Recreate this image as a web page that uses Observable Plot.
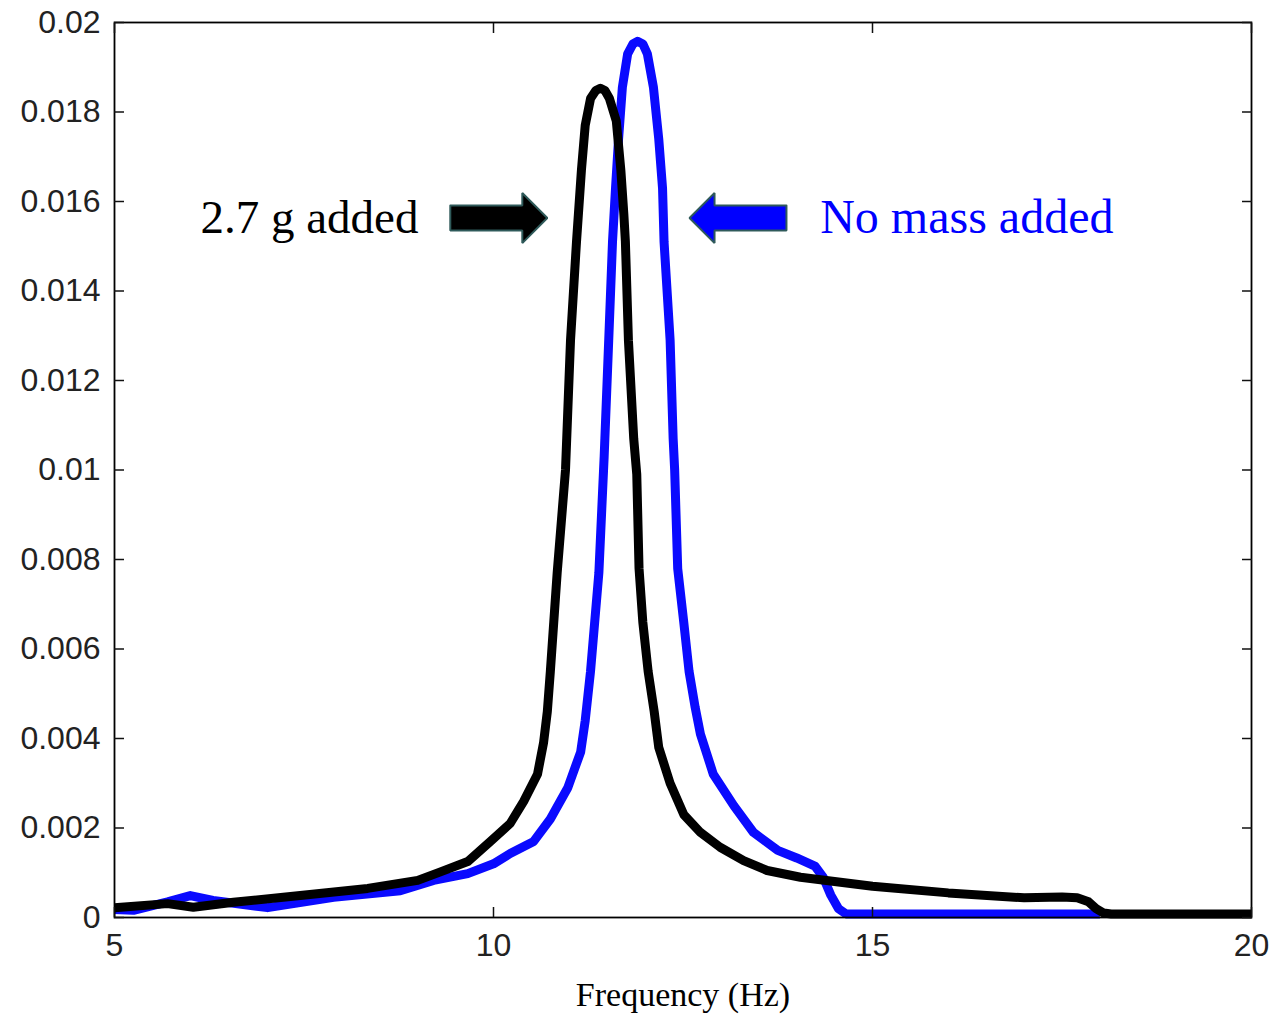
<!DOCTYPE html>
<html>
<head>
<meta charset="utf-8">
<script src="https://cdn.jsdelivr.net/npm/d3@7"></script>
<script src="https://cdn.jsdelivr.net/npm/@observablehq/plot@0.6"></script>
<style>
  html, body { margin: 0; padding: 0; background: #fff; }
  #chart svg { display: block; }
</style>
</head>
<body>
<div id="chart"></div>
<script>
// ---- Data ----
// "No mass added" (blue)
const freqNoMass = [5.0, 5.25, 5.7, 6.0, 6.3, 7.02, 7.89, 8.77, 9.21, 9.66, 10.0, 10.22, 10.53, 10.75, 10.98, 11.15, 11.21, 11.28, 11.39, 11.46, 11.52, 11.57, 11.61, 11.65, 11.70, 11.77, 11.84, 11.90, 11.97, 12.03, 12.11, 12.18, 12.23, 12.25, 12.33, 12.37, 12.39, 12.43, 12.51, 12.58, 12.66, 12.73, 12.90, 13.17, 13.43, 13.75, 14.0, 14.24, 14.35, 14.45, 14.55, 14.65, 18.0];
const ampNoMass  = [0.00018, 0.00016, 0.00035, 0.00049, 0.00038, 0.00022, 0.00045, 0.0006, 0.00083, 0.00098, 0.0012, 0.00143, 0.0017, 0.0022, 0.0029, 0.0037, 0.0044, 0.0055, 0.0077, 0.0103, 0.0129, 0.0151, 0.0163, 0.0174, 0.01855, 0.0193, 0.01952, 0.01958, 0.01952, 0.0193, 0.01855, 0.0174, 0.0163, 0.0151, 0.0129, 0.0107, 0.0100, 0.0078, 0.0066, 0.0055, 0.0047, 0.0041, 0.0032, 0.0025, 0.0019, 0.0015, 0.00133, 0.00115, 0.0009, 0.0005, 0.0002, 0.00008, 0.00008];

// "2.7 g added" (black)
const freqAdded = [5.0, 5.7, 6.04, 6.57, 7.45, 8.34, 9.0, 9.3, 9.66, 9.96, 10.22, 10.40, 10.58, 10.66, 10.71, 10.75, 10.84, 10.95, 11.016, 11.095, 11.16, 11.21, 11.28, 11.35, 11.41, 11.47, 11.53, 11.62, 11.68, 11.72, 11.74, 11.78, 11.85, 11.89, 11.92, 11.97, 12.04, 12.12, 12.18, 12.33, 12.51, 12.73, 12.99, 13.30, 13.61, 14.05, 14.71, 15.0, 16.0, 17.0, 17.5, 17.7, 17.85, 17.95, 18.05, 18.15, 20.0];
const ampAdded  = [0.00022, 0.00031, 0.00023, 0.00034, 0.00049, 0.00065, 0.00083, 0.00102, 0.00125, 0.0017, 0.0021, 0.0026, 0.0032, 0.0039, 0.0046, 0.0055, 0.0077, 0.0100, 0.0129, 0.0151, 0.0167, 0.0177, 0.0183, 0.01848, 0.01853, 0.01848, 0.0183, 0.0178, 0.0167, 0.0157, 0.0151, 0.0129, 0.0107, 0.0099, 0.0078, 0.0066, 0.0055, 0.0046, 0.0038, 0.0030, 0.0023, 0.0019, 0.00157, 0.00127, 0.00105, 0.0009, 0.00076, 0.0007, 0.00055, 0.00044, 0.00046, 0.00044, 0.00035, 0.0002, 0.0001, 0.00008, 0.00008];

// Axis ticks
const xTicks = [5, 10, 15, 20];
const yTicks = [0, 0.002, 0.004, 0.006, 0.008, 0.01, 0.012, 0.014, 0.016, 0.018, 0.02];
const yTickLabels = ["0", "0.002", "0.004", "0.006", "0.008", "0.01", "0.012", "0.014", "0.016", "0.018", "0.02"];
const xLabel = "Frequency (Hz)";

// Annotations (data units)
const labelTexts = ["2.7 g added", "No mass added"];
const labelX = [9.01, 14.31];
const labelY = [0.01563, 0.01563];
const arrowTail = [9.43, 13.865];
const arrowTip = [10.71, 12.586];
const arrowY = [0.01563, 0.01563];

// ---- Build tables ----
const blue = freqNoMass.map((f, i) => ({f, a: ampNoMass[i]}));
const black = freqAdded.map((f, i) => ({f, a: ampAdded[i]}));

const HEAD_LEN = 0.33, BODY_HALF = 0.00028, HEAD_HALF = 0.00056;
function arrowPolygon(i) {
  const tail = arrowTail[i], tip = arrowTip[i], y = arrowY[i];
  const dir = Math.sign(tip - tail);
  const base = tip - dir * HEAD_LEN;
  const pts = [
    [tail, y + BODY_HALF], [base, y + BODY_HALF], [base, y + HEAD_HALF],
    [tip, y], [base, y - HEAD_HALF], [base, y - BODY_HALF], [tail, y - BODY_HALF],
    [tail, y + BODY_HALF]
  ];
  return pts.map(([x, yy]) => ({x, y: yy}));
}

const sansFont = "'Liberation Sans', Arial, Helvetica, sans-serif";
const serifFont = "'Liberation Serif', 'Times New Roman', serif";

const chart = Plot.plot({
  width: 1279,
  height: 1017,
  marginLeft: 114,
  marginRight: 28,
  marginTop: 22,
  marginBottom: 100,
  style: {fontFamily: sansFont, fontSize: "32px", color: "#111", background: "#fff"},
  x: {domain: [5, 20]},
  y: {domain: [0, 0.02]},
  marks: [
    Plot.line(blue, {x: "f", y: "a", stroke: "#0a0aff", strokeWidth: 9, strokeLinejoin: "round", strokeLinecap: "butt"}),
    Plot.line(black, {x: "f", y: "a", stroke: "#000", strokeWidth: 9, strokeLinejoin: "round", strokeLinecap: "butt"}),
    Plot.line(arrowPolygon(0), {x: "x", y: "y", fill: "#000", stroke: "#2f5a5a", strokeWidth: 2, strokeLinejoin: "miter"}),
    Plot.line(arrowPolygon(1), {x: "x", y: "y", fill: "#0000ff", stroke: "#2f5a5a", strokeWidth: 2, strokeLinejoin: "miter"}),
    Plot.text([0], {x: () => labelX[0], y: () => labelY[0], text: () => labelTexts[0], textAnchor: "end", lineAnchor: "middle", fontFamily: serifFont, fontSize: 47, fill: "#000"}),
    Plot.text([1], {x: () => labelX[1], y: () => labelY[1], text: () => labelTexts[1], textAnchor: "start", lineAnchor: "middle", fontFamily: serifFont, fontSize: 48, fill: "#0000ff"}),
    Plot.frame({stroke: "#000", strokeWidth: 1.8}),
    Plot.axisX(xTicks, {anchor: "bottom", tickSize: -10, tickPadding: 26, strokeWidth: 1.5, label: null, tickFormat: d => String(d), fontSize: 32, fill: "#222"}),
    Plot.axisX(xTicks, {anchor: "top", tickSize: -10, strokeWidth: 1.5, label: null, tickFormat: () => ""}),
    Plot.axisY(yTicks, {anchor: "left", tickSize: -10, tickPadding: 24, strokeWidth: 1.5, label: null, tickFormat: d => yTickLabels[yTicks.indexOf(d)], fontSize: 32, fill: "#222"}),
    Plot.axisY(yTicks, {anchor: "right", tickSize: -10, strokeWidth: 1.5, label: null, tickFormat: () => ""}),
    Plot.text([xLabel], {frameAnchor: "bottom", dy: 78, text: d => d, lineAnchor: "middle", fontFamily: serifFont, fontSize: 34, fill: "#000"})
  ]
});
document.getElementById("chart").appendChild(chart);
</script>
</body>
</html>
